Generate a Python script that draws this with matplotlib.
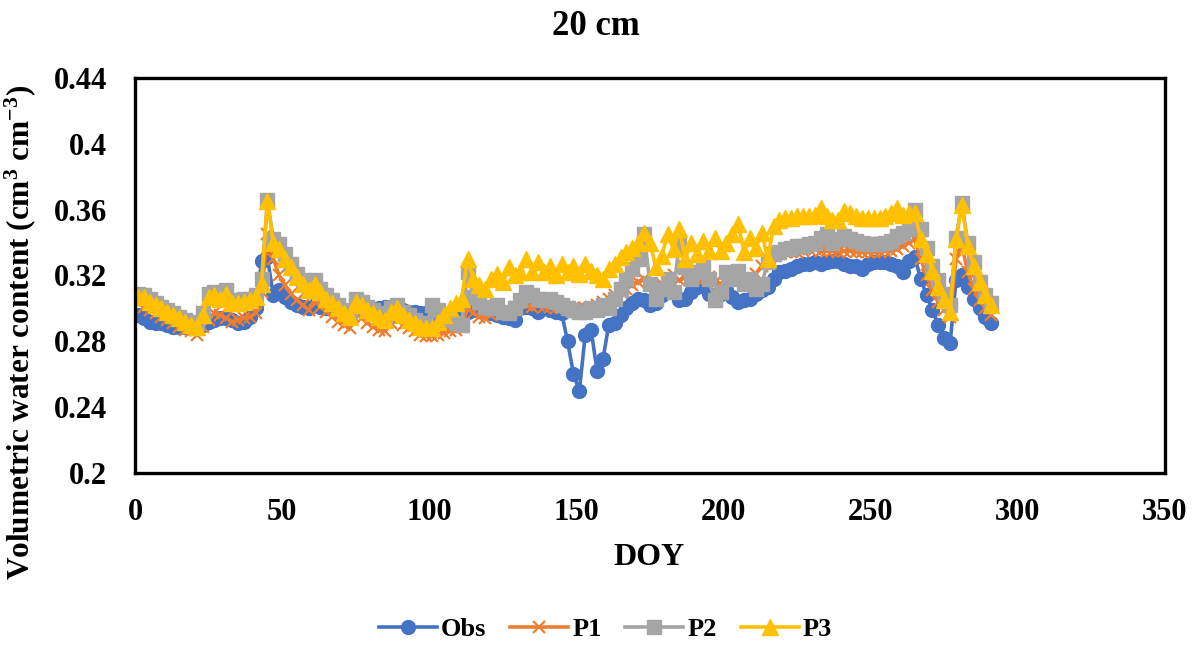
import matplotlib
matplotlib.use("Agg")
import matplotlib.pyplot as plt
from matplotlib.lines import Line2D

# day of year, every second day
doy = list(range(1, 292, 2))

obs = [0.296, 0.294, 0.292, 0.291, 0.291, 0.290, 0.289, 0.289, 0.289, 0.288,
       0.288, 0.290, 0.292, 0.293, 0.294, 0.294, 0.293, 0.291, 0.292, 0.295,
       0.300, 0.329, 0.331, 0.308, 0.311, 0.307, 0.304, 0.302, 0.301, 0.300,
       0.302, 0.301, 0.300, 0.300, 0.299, 0.299, 0.298, 0.300, 0.300, 0.299,
       0.299, 0.300, 0.301, 0.301, 0.300, 0.299, 0.298, 0.298, 0.297, 0.297,
       0.296, 0.296, 0.295, 0.295, 0.296, 0.297, 0.298, 0.299, 0.299, 0.298,
       0.297, 0.296, 0.295, 0.294, 0.293, 0.300, 0.301, 0.300, 0.298, 0.300,
       0.299, 0.298, 0.297, 0.280, 0.260, 0.250, 0.284, 0.287, 0.262, 0.269,
       0.290, 0.291, 0.296, 0.300, 0.303, 0.306, 0.305, 0.302, 0.303, 0.308,
       0.312, 0.310, 0.305, 0.306, 0.310, 0.313, 0.314, 0.309, 0.306, 0.309,
       0.311, 0.307, 0.304, 0.305, 0.306, 0.309, 0.311, 0.313, 0.318, 0.322,
       0.323, 0.324, 0.326, 0.327, 0.327, 0.328, 0.327, 0.328, 0.329, 0.329,
       0.327, 0.326, 0.326, 0.324, 0.327, 0.328, 0.328, 0.328, 0.327, 0.326,
       0.322, 0.329, 0.331, 0.318, 0.308, 0.299, 0.290, 0.282, 0.279, 0.317,
       0.320, 0.313, 0.306, 0.300, 0.295, 0.291]

p1 = [0.303, 0.301, 0.299, 0.297, 0.295, 0.293, 0.291, 0.289, 0.287, 0.286,
      0.284, 0.289, 0.293, 0.297, 0.296, 0.294, 0.292, 0.293, 0.294, 0.295,
      0.297, 0.310, 0.345, 0.330, 0.320, 0.314, 0.309, 0.305, 0.302, 0.299,
      0.305, 0.301, 0.298, 0.295, 0.292, 0.290, 0.288, 0.297, 0.294, 0.291,
      0.289, 0.287, 0.286, 0.291, 0.293, 0.290, 0.288, 0.286, 0.284, 0.283,
      0.283, 0.284, 0.285, 0.286, 0.287, 0.289, 0.300, 0.297, 0.295, 0.294,
      0.296, 0.298, 0.297, 0.299, 0.301, 0.303, 0.302, 0.301, 0.302, 0.301,
      0.301, 0.300, 0.300, 0.301, 0.300, 0.300, 0.300, 0.301, 0.302, 0.304,
      0.306, 0.308, 0.310, 0.312, 0.314, 0.316, 0.318, 0.315, 0.313, 0.315,
      0.318, 0.320, 0.317, 0.319, 0.321, 0.318, 0.317, 0.319, 0.316, 0.315,
      0.318, 0.320, 0.318, 0.316, 0.318, 0.321, 0.326, 0.330, 0.332, 0.333,
      0.334, 0.334, 0.334, 0.335, 0.336, 0.336, 0.335, 0.335, 0.335, 0.334,
      0.335, 0.335, 0.334, 0.334, 0.334, 0.334, 0.334, 0.335, 0.335, 0.336,
      0.338, 0.340, 0.342, 0.330, 0.320, 0.311, 0.304, 0.299, 0.295, 0.330,
      0.338, 0.322, 0.312, 0.305, 0.300, 0.296]

p2 = [0.309, 0.308, 0.306, 0.303, 0.301, 0.299, 0.297, 0.295, 0.293, 0.292,
      0.291, 0.297, 0.309, 0.310, 0.308, 0.311, 0.305, 0.305, 0.306, 0.306,
      0.308, 0.318, 0.366, 0.342, 0.339, 0.333, 0.327, 0.321, 0.317, 0.313,
      0.317, 0.312, 0.308, 0.305, 0.302, 0.299, 0.297, 0.306, 0.304, 0.301,
      0.299, 0.297, 0.295, 0.300, 0.302, 0.298, 0.296, 0.293, 0.291, 0.290,
      0.302, 0.299, 0.296, 0.293, 0.291, 0.290, 0.322, 0.307, 0.304, 0.301,
      0.300, 0.302, 0.298, 0.297, 0.300, 0.305, 0.310, 0.308, 0.306, 0.305,
      0.306, 0.304, 0.302, 0.300, 0.299, 0.298, 0.298, 0.300, 0.299, 0.302,
      0.300, 0.306, 0.312, 0.318, 0.324, 0.330, 0.345, 0.315, 0.306, 0.312,
      0.318, 0.310, 0.340, 0.325, 0.318, 0.322, 0.326, 0.318, 0.305, 0.310,
      0.322, 0.318, 0.323, 0.315, 0.318, 0.312, 0.315, 0.328, 0.333, 0.334,
      0.336, 0.337, 0.338, 0.338, 0.339, 0.340, 0.343, 0.345, 0.340, 0.342,
      0.344, 0.342, 0.341, 0.340, 0.339, 0.339, 0.339, 0.340, 0.341, 0.344,
      0.346, 0.348, 0.360, 0.348, 0.337, 0.326, 0.317, 0.309, 0.302, 0.343,
      0.364, 0.340, 0.328, 0.316, 0.308, 0.303]

p3 = [0.307, 0.307, 0.304, 0.302, 0.300, 0.298, 0.296, 0.294, 0.292, 0.290,
      0.289, 0.296, 0.307, 0.308, 0.306, 0.309, 0.303, 0.303, 0.304, 0.305,
      0.307, 0.315, 0.365, 0.340, 0.336, 0.330, 0.325, 0.319, 0.315, 0.311,
      0.315, 0.310, 0.306, 0.303, 0.300, 0.297, 0.295, 0.304, 0.302, 0.299,
      0.297, 0.295, 0.293, 0.298, 0.300, 0.296, 0.293, 0.291, 0.289, 0.288,
      0.288, 0.292, 0.296, 0.300, 0.303, 0.306, 0.330, 0.318, 0.314, 0.312,
      0.318, 0.321, 0.316, 0.325, 0.320, 0.322, 0.330, 0.322, 0.328, 0.322,
      0.326, 0.320, 0.327, 0.322, 0.326, 0.321, 0.327, 0.323, 0.320, 0.318,
      0.324, 0.327, 0.331, 0.334, 0.337, 0.340, 0.346, 0.340, 0.325, 0.332,
      0.345, 0.336, 0.348, 0.330, 0.340, 0.333, 0.341, 0.335, 0.343, 0.335,
      0.340, 0.345, 0.351, 0.334, 0.343, 0.337, 0.346, 0.330, 0.350, 0.354,
      0.355, 0.355, 0.356, 0.356, 0.356, 0.357, 0.361, 0.356, 0.354, 0.354,
      0.359, 0.358, 0.356, 0.355, 0.355, 0.355, 0.355, 0.356, 0.358, 0.361,
      0.357, 0.358, 0.358, 0.342, 0.333, 0.323, 0.313, 0.305, 0.298, 0.342,
      0.363, 0.338, 0.326, 0.316, 0.308, 0.302]

series_names = ["Obs", "P1", "P2", "P3"]
y_ticks = [0.2, 0.24, 0.28, 0.32, 0.36, 0.4, 0.44]
x_ticks = [0, 50, 100, 150, 200, 250, 300, 350]

plt.rcParams["font.family"] = ["Liberation Serif", "DejaVu Serif"]
plt.rcParams["font.weight"] = "bold"
plt.rcParams["mathtext.fontset"] = "custom"
plt.rcParams["mathtext.bf"] = "Liberation Serif:bold"
plt.rcParams["mathtext.rm"] = "Liberation Serif:bold"
plt.rcParams["mathtext.default"] = "bf"

fig = plt.figure(figsize=(11.99, 6.56), dpi=100)
ax = fig.add_axes([0.1126, 0.2790, 0.8590, 0.6021])

styles = [
    dict(color="#4472C4", marker="o", markersize=10),
    dict(color="#ED7D31", marker="x", markersize=8.5, markeredgewidth=1.6),
    dict(color="#A5A5A5", marker="s", markersize=10),
    dict(color="#FFC000", marker="^", markersize=12),
]
for name, vals, st in zip(series_names, [obs, p1, p2, p3], styles):
    ax.plot(doy, vals, linewidth=2.6, label=name, **st)

ax.set_xlim(0, 350)
ax.set_ylim(0.2, 0.44)
ax.set_xticks(x_ticks)
ax.set_xticklabels([str(t) for t in x_ticks])
ax.set_yticks(y_ticks)
ax.set_yticklabels([f"{t:g}" for t in y_ticks])
ax.tick_params(axis="both", length=0, labelsize=22)
ax.tick_params(axis="x", pad=18)
ax.tick_params(axis="y", pad=20)
for sp in ax.spines.values():
    sp.set_linewidth(2.4)
    sp.set_color("black")

fig.suptitle("20 cm", x=0.497, y=0.959, va="center", fontsize=25,
             fontweight="bold")
ax.set_xlabel("DOY", fontsize=23, fontweight="bold")
ax.xaxis.set_label_coords(0.499, -0.178)
ax.set_ylabel("Volumetric water content (cm$^{3}$ cm$^{-3}$)", fontsize=22.5,
              fontweight="bold")
ax.yaxis.set_label_coords(-0.094, 0.357)

# legend entries with line through the marker
handles = [Line2D([0], [0], linewidth=2.6, **st) for st in styles]
fig.legend(handles, series_names, loc="center", bbox_to_anchor=(0.505, 0.04),
           ncol=4, frameon=False, fontsize=19, handlelength=2.2,
           handletextpad=0.15, columnspacing=0.9)

fig.savefig("out.png", dpi=100)
